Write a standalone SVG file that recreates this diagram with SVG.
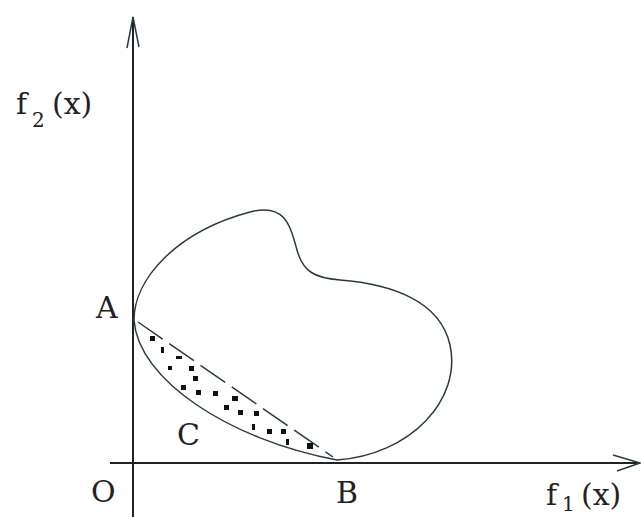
<svg xmlns="http://www.w3.org/2000/svg" width="641" height="517" viewBox="0 0 641 517">
<style>
.ax{stroke:#222;stroke-width:2;fill:none}
.ln{stroke:#2a3a40;stroke-width:1.5;fill:none}
.lb{font-family:'DejaVu Serif',serif;font-size:30px;fill:#222}
.sb{font-family:'DejaVu Serif',serif;font-size:20px;fill:#222}
.pt{fill:#111}
</style>
<rect width="641" height="517" fill="#fff"/>
<g id="axes">
<line class="ax" x1="133" y1="17" x2="133" y2="517"/>
<polyline class="ln" points="127,48 133,17 139,47"/>
<line class="ax" x1="110" y1="463" x2="640" y2="463"/>
<polyline class="ln" points="613,455 640,463 617,471"/>
</g>
<g id="region">
<path class="ln" d="M134,320 C134,280 175,232 250,212 C285,203 290,225 297,250 C303,272 315,278 340,280 C390,284 440,300 450,345 C462,400 410,455 337,460"/>
</g>
<g id="curveC">
<path class="ln" d="M134,320 C138,380 230,440 337,460"/>
</g>
<g id="connectors">
<line class="ln" x1="138" y1="322" x2="333" y2="457" stroke-dasharray="30 8"/>
</g>
<g id="points">
<rect class="pt" x="150" y="336" width="5" height="5"/>
<rect class="pt" x="161" y="347" width="3" height="6"/>
<rect class="pt" x="176" y="356" width="6" height="3"/>
<rect class="pt" x="168" y="366" width="4" height="4"/>
<rect class="pt" x="189" y="366" width="5" height="5"/>
<rect class="pt" x="193" y="376" width="5" height="5"/>
<rect class="pt" x="181" y="385" width="5" height="5"/>
<rect class="pt" x="196" y="390" width="5" height="5"/>
<rect class="pt" x="213" y="391" width="5" height="5"/>
<rect class="pt" x="232" y="396" width="6" height="5"/>
<rect class="pt" x="224" y="405" width="5" height="5"/>
<rect class="pt" x="238" y="410" width="5" height="5"/>
<rect class="pt" x="254" y="411" width="5" height="5"/>
<rect class="pt" x="252" y="424" width="3" height="6"/>
<rect class="pt" x="267" y="429" width="5" height="5"/>
<rect class="pt" x="281" y="429" width="5" height="5"/>
<rect class="pt" x="286" y="439" width="3" height="6"/>
<rect class="pt" x="307" y="443" width="6" height="6"/>
</g>
<g id="labels">
<text class="lb" x="16" y="114">f</text>
<text class="sb" x="32" y="127">2</text>
<text class="lb" x="52" y="114">(x)</text>
<text class="lb" x="96" y="318">A</text>
<text class="lb" x="177" y="445">C</text>
<text class="lb" x="91" y="502">O</text>
<text class="lb" x="336" y="503">B</text>
<text class="lb" x="546" y="505">f</text>
<text class="sb" x="562" y="511" font-size="16">1</text>
<text class="lb" x="581" y="505">(x)</text>
</g>
</svg>
